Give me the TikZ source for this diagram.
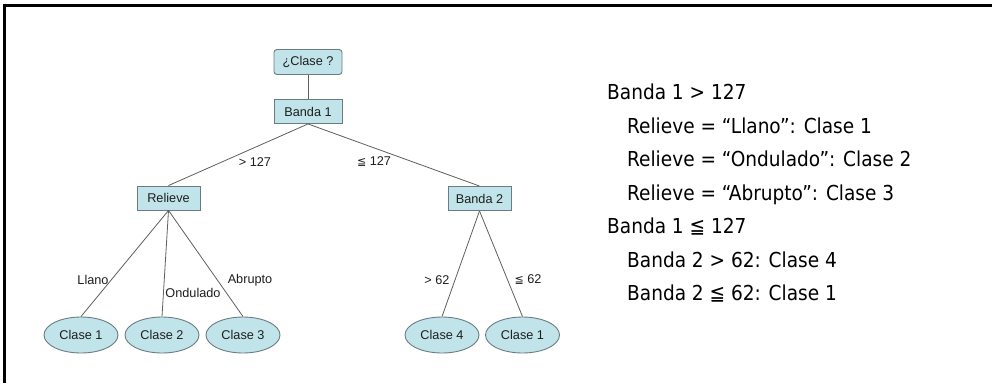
\documentclass[tikz,border=0pt]{standalone}
\usepackage{fontspec}
\usetikzlibrary{shapes.geometric}
\setmainfont{Liberation Sans}
\newfontfamily\rulefont{DejaVu Sans Condensed}
\newfontfamily\symfont{DejaVu Sans}
\definecolor{nodefill}{RGB}{193,228,234}
\definecolor{nodeedge}{RGB}{105,125,128}
\definecolor{edgeline}{RGB}{95,95,95}
\definecolor{labeltext}{RGB}{30,30,30}
\begin{document}
\begin{tikzpicture}[x=1pt,y=-1pt,
  treefont/.style={font=\fontsize{12.7}{14}\selectfont, text=labeltext},
  rootbox/.style={treefont, draw=nodeedge, fill=nodefill, line width=0.9pt,
    rounded corners=3pt, minimum width=68pt, minimum height=25pt, inner sep=0pt},
  testbox/.style={treefont, draw=nodeedge, fill=nodefill, line width=0.9pt,
    minimum width=63pt, minimum height=24pt, inner sep=0pt},
  leafnode/.style={treefont, ellipse, draw=nodeedge, fill=nodefill, line width=0.9pt,
    minimum width=74pt, minimum height=36pt, inner sep=0pt},
  branch/.style={draw=edgeline, line width=0.8pt},
  cond/.style={treefont, inner sep=0pt},
  ruleline/.style={anchor=base west, inner sep=0pt,
    font=\rulefont\fontsize{20.6}{23}\selectfont, text=black}]
\useasboundingbox (0,0) rectangle (992,383);
\fill[white] (0,0) rectangle (992,383);
% frame: top and left rules
\draw[line width=3.3pt] (4.4,383) -- (4.4,5.6) -- (992,5.6);

% tree nodes
\node[rootbox] (q) at (308,62) {¿Clase ?};
\node[testbox, minimum width=68pt] (b1) at (308,111.5) {Banda 1};
\node[testbox] (rel) at (168.5,198) {Relieve};
\node[testbox] (b2) at (479.5,198.5) {Banda 2};
\node[leafnode] (c1) at (81,335) {Clase 1};
\node[leafnode] (c2) at (162,335) {Clase 2};
\node[leafnode] (c3) at (243,335) {Clase 3};
\node[leafnode] (c4) at (442,335) {Clase 4};
\node[leafnode] (c5) at (522.5,335) {Clase 1};

% branches
\draw[branch] (q.south) -- (b1.north);
\draw[branch] (b1.south) -- (rel.north);
\draw[branch] (b1.south) -- (b2.north);
\draw[branch] (rel.south) -- (c1.north);
\draw[branch] (rel.south) -- (c2.north);
\draw[branch] (rel.south) -- (c3.north);
\draw[branch] (b2.south) -- (c4.north);
\draw[branch] (b2.south) -- (c5.north);

% branch conditions
\node[cond] (l1) at (255,162) {> 127};
\node[cond] (l2) at (374,162) {{\symfont\fontsize{11}{13}\selectfont ≦} 127};
\node[cond] (l3) at (93,280) {Llano};
\node[cond] (l4) at (193,293) {Ondulado};
\node[cond] (l5) at (250,280) {Abrupto};
\node[cond] (l6) at (437,280) {> 62};
\node[cond] (l7) at (528,280) {{\symfont\fontsize{11}{13}\selectfont ≦} 62};

% rules read from the tree
\node[ruleline] (r1) at (607,99) {Banda 1 > 127};
\node[ruleline] (r2) at (627,133) {Relieve = “Llano”: Clase 1};
\node[ruleline] (r3) at (627,166.5) {Relieve = “Ondulado”: Clase 2};
\node[ruleline] (r4) at (627,200) {Relieve = “Abrupto”: Clase 3};
\node[ruleline] (r5) at (607,233.5) {Banda 1 ≦ 127};
\node[ruleline] (r6) at (627,267) {Banda 2 > 62: Clase 4};
\node[ruleline] (r7) at (627,300) {Banda 2 ≦ 62: Clase 1};
\end{tikzpicture}
\end{document}
